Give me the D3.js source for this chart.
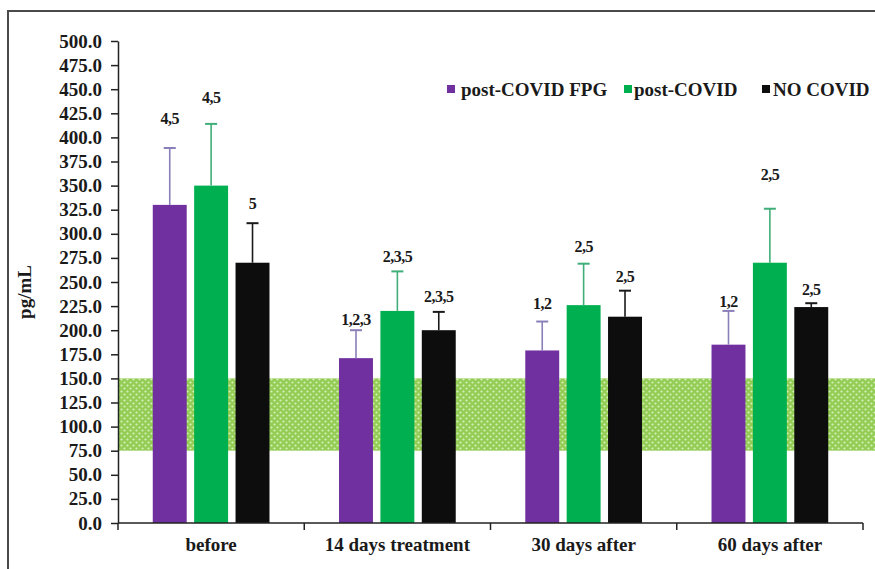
<!DOCTYPE html>
<html>
<head>
<meta charset="utf-8">
<script src="https://cdn.jsdelivr.net/npm/d3@7"></script>
<style>
  html, body { margin: 0; padding: 0; background: #fff; }
  svg { display: block; }
  text { font-family: "Liberation Serif", "Times New Roman", serif; font-weight: bold; fill: #1a1a1a; }
</style>
</head>
<body>
<svg id="chart" width="875" height="569"></svg>
<script>
// Time points and groups
const categories = ["before", "14 days treatment", "30 days after", "60 days after"];
const seriesNames = ["post-COVID FPG", "post-COVID", "NO COVID"];

// Mean concentrations (pg/mL) and their standard deviations
const fpgMean = [330, 171, 179, 185];
const fpgSd = [59, 29, 30, 35];
const covidMean = [350, 220, 226, 270];
const covidSd = [64, 41, 43, 56];
const noCovidMean = [270, 200, 214, 224];
const noCovidSd = [41, 19, 27, 4];

// Significance annotations and the level (pg/mL) each is written at
const fpgLabels = ["4,5", "1,2,3", "1,2", "1,2"];
const fpgLabelAt = [414, 205, 222, 224];
const covidLabels = ["4,5", "2,3,5", "2,5", "2,5"];
const covidLabelAt = [436, 271, 281, 356];
const noCovidLabels = ["5", "2,3,5", "2,5", "2,5"];
const noCovidLabelAt = [326, 229, 250, 236];

// Reference (normal) range band
const normalRange = [75, 150];
const yTicks = d3.range(0, 501, 25);

const colors = ["#7030a0", "#00b050", "#0d0d0d"];
const errColors = ["#8a7fb8", "#3fae78", "#1a1a1a"];

const means = [fpgMean, covidMean, noCovidMean];
const sds = [fpgSd, covidSd, noCovidSd];
const labels = [fpgLabels, covidLabels, noCovidLabels];
const labelAt = [fpgLabelAt, covidLabelAt, noCovidLabelAt];

const svg = d3.select("#chart");

// Frame lines (top and left)
svg.append("path")
  .attr("d", "M8,569 V11 H875")
  .attr("fill", "none")
  .attr("stroke", "#4a4a4a")
  .attr("stroke-width", 2);

const plotLeft = 118, plotRight = 863, plotTop = 41, plotBottom = 523;

const y = d3.scaleLinear().domain([0, 500]).range([plotBottom, plotTop]);
const x0 = d3.scaleBand().domain(categories).range([plotLeft, plotRight]);
const x1 = d3.scaleBand().domain(seriesNames).range([0, x0.bandwidth()])
  .paddingInner(0.18).paddingOuter(0.84);

// Dotted fill for the normal range
const defs = svg.append("defs");
const pat = defs.append("pattern")
  .attr("id", "dots")
  .attr("width", 6).attr("height", 6)
  .attr("patternUnits", "userSpaceOnUse");
pat.append("rect").attr("width", 6).attr("height", 6).attr("fill", "#93cd55");
pat.append("circle").attr("cx", 1.5).attr("cy", 1.5).attr("r", 1.1).attr("fill", "#d6f0b6");
pat.append("circle").attr("cx", 4.5).attr("cy", 4.5).attr("r", 1.1).attr("fill", "#d6f0b6");

svg.append("rect")
  .attr("x", plotLeft)
  .attr("y", y(normalRange[1]))
  .attr("width", 875 - plotLeft)
  .attr("height", y(normalRange[0]) - y(normalRange[1]))
  .attr("fill", "url(#dots)");

// Bars, error bars and annotations
const groups = svg.selectAll("g.cat")
  .data(categories)
  .join("g")
  .attr("class", "cat")
  .attr("transform", d => `translate(${x0(d)},0)`);

seriesNames.forEach((s, si) => {
  groups.each(function (c, ci) {
    const g = d3.select(this);
    const m = means[si][ci], sd = sds[si][ci];
    const bx = x1(s), bw = x1.bandwidth(), cx = bx + bw / 2;
    g.append("rect")
      .attr("x", bx).attr("y", y(m))
      .attr("width", bw).attr("height", y(0) - y(m))
      .attr("fill", colors[si]);
    g.append("line")
      .attr("x1", cx).attr("x2", cx)
      .attr("y1", y(m)).attr("y2", y(m + sd))
      .attr("stroke", errColors[si]).attr("stroke-width", 1.6);
    g.append("line")
      .attr("x1", cx - 6).attr("x2", cx + 6)
      .attr("y1", y(m + sd)).attr("y2", y(m + sd))
      .attr("stroke", errColors[si]).attr("stroke-width", 2);
    g.append("text")
      .attr("x", cx).attr("y", y(labelAt[si][ci]))
      .attr("text-anchor", "middle")
      .style("font-size", "16px")
      .style("letter-spacing", "-0.5px")
      .text(labels[si][ci]);
  });
});

// Y axis
const yAxis = d3.axisLeft(y)
  .tickValues(yTicks)
  .tickFormat(d3.format(".1f"))
  .tickSize(7)
  .tickSizeOuter(0)
  .tickPadding(9);
const gy = svg.append("g").attr("transform", `translate(${plotLeft},0)`).call(yAxis);
gy.attr("font-family", null);
gy.selectAll("text").style("font-size", "19px");
gy.selectAll("line, path").attr("stroke", "#222").attr("stroke-width", 1.5);

// X axis: separators at category boundaries
const gx = svg.append("g").attr("transform", `translate(0,${plotBottom})`);
gx.append("line")
  .attr("x1", plotLeft).attr("x2", plotRight)
  .attr("stroke", "#222").attr("stroke-width", 1.5);
const bounds = categories.map(c => x0(c)).concat([plotRight]);
gx.selectAll("line.sep")
  .data(bounds)
  .join("line")
  .attr("class", "sep")
  .attr("x1", d => d).attr("x2", d => d)
  .attr("y1", 0).attr("y2", 7)
  .attr("stroke", "#222").attr("stroke-width", 1.5);
gx.selectAll("text")
  .data(categories)
  .join("text")
  .attr("x", d => x0(d) + x0.bandwidth() / 2)
  .attr("y", 28)
  .attr("text-anchor", "middle")
  .style("font-size", "19px")
  .text(d => d);

// Y axis title
svg.append("text")
  .attr("transform", `translate(31,${(plotTop + plotBottom) / 2 + 10}) rotate(-90)`)
  .attr("text-anchor", "middle")
  .style("font-size", "19px")
  .text("pg/mL");

// Legend
const legendItems = [
  { name: seriesNames[0], color: colors[0], sx: 447, tx: 461 },
  { name: seriesNames[1], color: colors[1], sx: 624, tx: 634 },
  { name: seriesNames[2], color: colors[2], sx: 762, tx: 773 }
];
const lg = svg.append("g");
lg.selectAll("rect")
  .data(legendItems)
  .join("rect")
  .attr("x", d => d.sx).attr("y", 85)
  .attr("width", 8).attr("height", 8)
  .attr("fill", d => d.color);
lg.selectAll("text")
  .data(legendItems)
  .join("text")
  .attr("x", d => d.tx).attr("y", 96)
  .style("font-size", "19px")
  .text(d => d.name);
</script>
</body>
</html>
